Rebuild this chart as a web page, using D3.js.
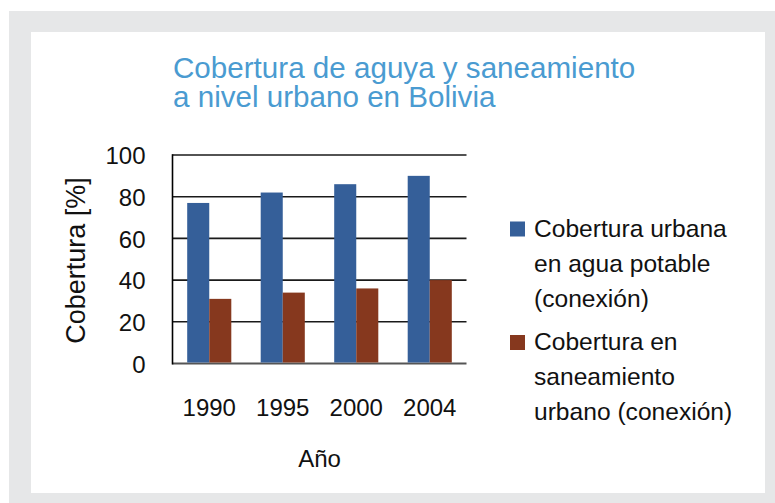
<!DOCTYPE html>
<html>
<head>
<meta charset="utf-8">
<script src="https://cdn.jsdelivr.net/npm/d3@7"></script>
<style>
  body { margin: 0; background: #fff; }
  svg text { font-family: "Liberation Sans", Arial, sans-serif; }
</style>
</head>
<body>
<div id="chart"></div>
<script>
// data
const years = ['1990', '1995', '2000', '2004']
const seriesNames = ['agua', 'saneamiento']
const agua = [77, 82, 86, 90]
const saneamiento = [31, 34, 36, 40]
const yTicks = [0, 20, 40, 60, 80, 100]
const titleLines = ['Cobertura de aguya y saneamiento', 'a nivel urbano en Bolivia']
const legendItems = [
  { key: 'agua', lines: ['Cobertura urbana', 'en agua potable', '(conexión)'] },
  { key: 'saneamiento', lines: ['Cobertura en', 'saneamiento', 'urbano (conexión)'] }
]

const colors = { agua: '#355f99', saneamiento: '#86381e' }

const W = 775, H = 503
const plot = { left: 172.5, right: 466.5, top: 155, bottom: 363.5 }

const svg = d3.select('#chart').append('svg')
  .attr('width', W)
  .attr('height', H)

// frame
svg.append('rect').attr('x', 9).attr('y', 11).attr('width', W - 9).attr('height', H - 11).attr('fill', '#e6e7e8')
svg.append('rect').attr('x', 31).attr('y', 32).attr('width', 734).attr('height', 461).attr('fill', '#fff')

// title
svg.append('text')
  .attr('fill', '#4a9bd1')
  .style('font-size', '29.6px')
  .selectAll('tspan')
  .data(titleLines)
  .enter().append('tspan')
    .attr('x', 173)
    .attr('y', function(d, i) { return 78 + i * 29 })
    .text(function(d) { return d })

const x0 = d3.scaleBand()
  .domain(years)
  .range([plot.left, plot.right])
  .paddingInner(0.4)
  .paddingOuter(0.2)

const x1 = d3.scaleBand()
  .domain(seriesNames)
  .range([0, x0.bandwidth()])

const y = d3.scaleLinear()
  .domain([0, 100])
  .range([plot.bottom, plot.top])

// gridlines
svg.append('g')
  .selectAll('line')
  .data(yTicks)
  .enter().append('line')
    .attr('x1', plot.left)
    .attr('x2', plot.right)
    .attr('y1', function(d) { return y(d) })
    .attr('y2', function(d) { return y(d) })
    .attr('stroke', function(d) { return d === 0 ? '#555' : '#1a1a1a' })
    .attr('stroke-width', function(d) { return d === 0 ? 2.2 : 1.6 })

// bars
const rows = years.map(function(yr, i) { return { year: yr, agua: agua[i], saneamiento: saneamiento[i] } })

svg.append('g')
  .selectAll('g')
  .data(rows)
  .enter().append('g')
    .attr('transform', function(d) { return 'translate(' + x0(d.year) + ',0)' })
  .selectAll('rect')
  .data(function(d) { return seriesNames.map(function(k) { return { key: k, value: d[k] } }) })
  .enter().append('rect')
    .attr('x', function(d) { return x1(d.key) })
    .attr('width', x1.bandwidth())
    .attr('y', function(d) { return y(d.value) })
    .attr('height', function(d) { return y(0) - y(d.value) - 1 })
    .attr('fill', function(d) { return colors[d.key] })

// left axis line
svg.append('line')
  .attr('x1', plot.left).attr('x2', plot.left)
  .attr('y1', y(100) - 0.8).attr('y2', y(0) + 1)
  .attr('stroke', '#000')
  .attr('stroke-width', 1.6)

// y axis labels
const yAxis = svg.append('g')
  .attr('transform', 'translate(' + (plot.left - 27) + ',0)')
  .call(d3.axisLeft(y).tickValues(yTicks).tickSize(0).tickPadding(0))
yAxis.select('.domain').remove()
yAxis.selectAll('text')
  .attr('fill', '#111')
  .style('font-size', '24px')
  .style('font-family', '"Liberation Sans", Arial, sans-serif')
  .attr('dy', '0.36em')

// x axis labels
const xAxis = svg.append('g')
  .attr('transform', 'translate(0,' + plot.bottom + ')')
  .call(d3.axisBottom(x0).tickSize(0).tickPadding(0))
xAxis.select('.domain').remove()
xAxis.selectAll('text')
  .attr('fill', '#111')
  .attr('y', 52)
  .attr('dy', 0)
  .style('font-size', '24px')
  .style('font-family', '"Liberation Sans", Arial, sans-serif')

// axis titles
svg.append('text')
  .attr('x', (plot.left + plot.right) / 2)
  .attr('y', 467)
  .attr('text-anchor', 'middle')
  .attr('fill', '#111')
  .style('font-size', '24px')
  .text('Año')

svg.append('text')
  .attr('transform', 'translate(85,260.5) rotate(-90)')
  .attr('text-anchor', 'middle')
  .attr('fill', '#111')
  .style('font-size', '27px')
  .text('Cobertura [%]')

// legend
const legend = svg.append('g')
  .selectAll('g')
  .data(legendItems)
  .enter().append('g')
    .attr('transform', function(d, i) { return 'translate(510,' + (221.5 + i * 113.5) + ')' })

legend.append('rect')
  .attr('width', 15)
  .attr('height', 15)
  .attr('fill', function(d) { return colors[d.key] })

legend.append('text')
  .attr('fill', '#111')
  .style('font-size', '24.6px')
  .selectAll('tspan')
  .data(function(d) { return d.lines })
  .enter().append('tspan')
    .attr('x', 24)
    .attr('y', function(d, i) { return 15 + i * 35 })
    .text(function(d) { return d })
</script>
</body>
</html>
